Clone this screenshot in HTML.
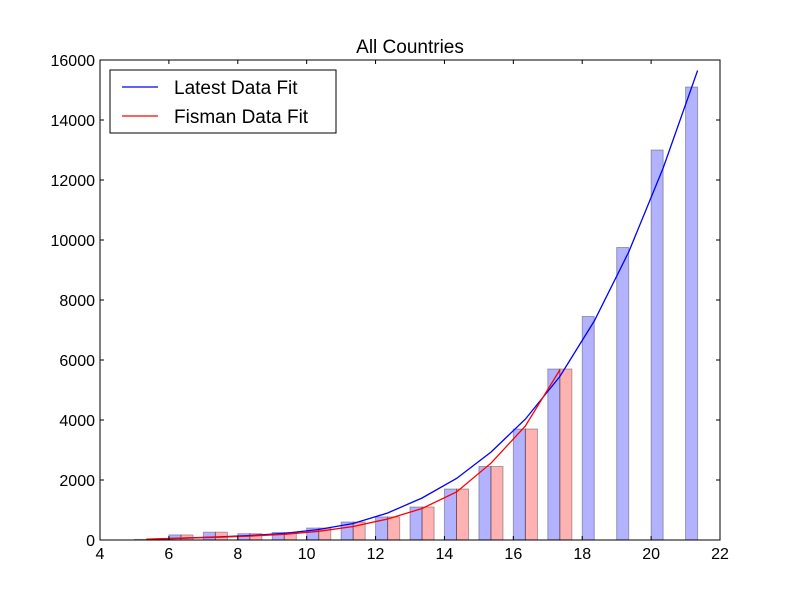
<!DOCTYPE html>
<html><head><meta charset="utf-8"><style>body{margin:0;background:#fff}svg{display:block;font-family:"Liberation Sans","DejaVu Sans",sans-serif}</style></head>
<body>
<svg id="chart" width="800" height="600" xmlns="http://www.w3.org/2000/svg"></svg>
<script>
const years = [5,6,7,8,9,10,11,12,13,14,15,16,17,18,19,20,21];
const latestValues = [20,170,260,210,250,400,600,770,1100,1700,2450,3700,5700,7450,9750,13000,15100];
const fismanValues = [30,170,260,210,250,400,600,770,1100,1700,2450,3700,5700];
const latestFit = [20,60,100,150,220,350,550,900,1400,2050,2930,4030,5450,7300,9600,12400,15650];
const fismanFit = [30,60,90,130,190,290,450,700,1050,1600,2560,3800,5670];
const xTicks = [4,6,8,10,12,14,16,18,20,22];
const yTicks = [0,2000,4000,6000,8000,10000,12000,14000,16000];
const NS="http://www.w3.org/2000/svg", svg=document.getElementById('chart');
const L=100,R=720,T=60,B=540;
const X=v=>L+(v-4)/18*(R-L), Y=v=>B-v/16000*(B-T);
function el(t,a,p){const e=document.createElementNS(NS,t);for(const k in a)e.setAttribute(k,a[k]);(p||svg).appendChild(e);return e;}
const W=0.35;
years.forEach((yr,i)=>{
  const b=el('rect',{x:X(yr),y:Y(latestValues[i]),width:X(yr+W)-X(yr),height:B-Y(latestValues[i]),fill:'#0000ff','fill-opacity':0.3,stroke:'#000','stroke-opacity':0.3});
  
  
});
fismanValues.forEach((v,i)=>{
  const yr=years[i];
  const b=el('rect',{x:X(yr+W),y:Y(v),width:X(yr+2*W)-X(yr+W),height:B-Y(v),fill:'#ff0000','fill-opacity':0.3,stroke:'#000','stroke-opacity':0.3});
  
  
});
function line(vals,color,name){
  const p=el('polyline',{points:vals.map((v,i)=>X(years[i]+W)+','+Y(v)).join(' '),fill:'none',stroke:color,'stroke-width':1.3});
  
  
}
line(latestFit,'#0000ff','latest-fit-line');
line(fismanFit,'#ff0000','fisman-fit-line');
const frame=el('rect',{x:L,y:T,width:R-L,height:B-T,fill:'none',stroke:'#000'});


xTicks.forEach(t=>{
  const x=X(t);
  el('line',{x1:x,y1:B,x2:x,y2:B-4,stroke:'#000'});el('line',{x1:x,y1:T,x2:x,y2:T+4,stroke:'#000'});
  const tx=el('text',{x:x,y:B+19,'font-size':16,'text-anchor':'middle'});tx.textContent=t;
  
  
});
yTicks.forEach(t=>{
  const y=Y(t);
  el('line',{x1:L,y1:y,x2:L+4,y2:y,stroke:'#000'});el('line',{x1:R,y1:y,x2:R-4,y2:y,stroke:'#000'});
  const tx=el('text',{x:L-5,y:y+6,'font-size':16,'text-anchor':'end'});tx.textContent=t;
  
  
});
const title=el('text',{x:410,y:53,'font-size':19,'text-anchor':'middle'});title.textContent='All Countries';


const lg=el('g',{});


el('rect',{x:110,y:70,width:226,height:63,fill:'#fff',stroke:'#000'},lg);
[['Latest Data Fit','#0000ff',87],['Fisman Data Fit','#ff0000',116]].forEach(([n,c,y])=>{
  el('line',{x1:122,y1:y,x2:158,y2:y,stroke:c,'stroke-width':1.3},lg);
  const t=el('text',{x:174,y:y+7,'font-size':19},lg);t.textContent=n;
  
  
});
</script>
</body></html>
